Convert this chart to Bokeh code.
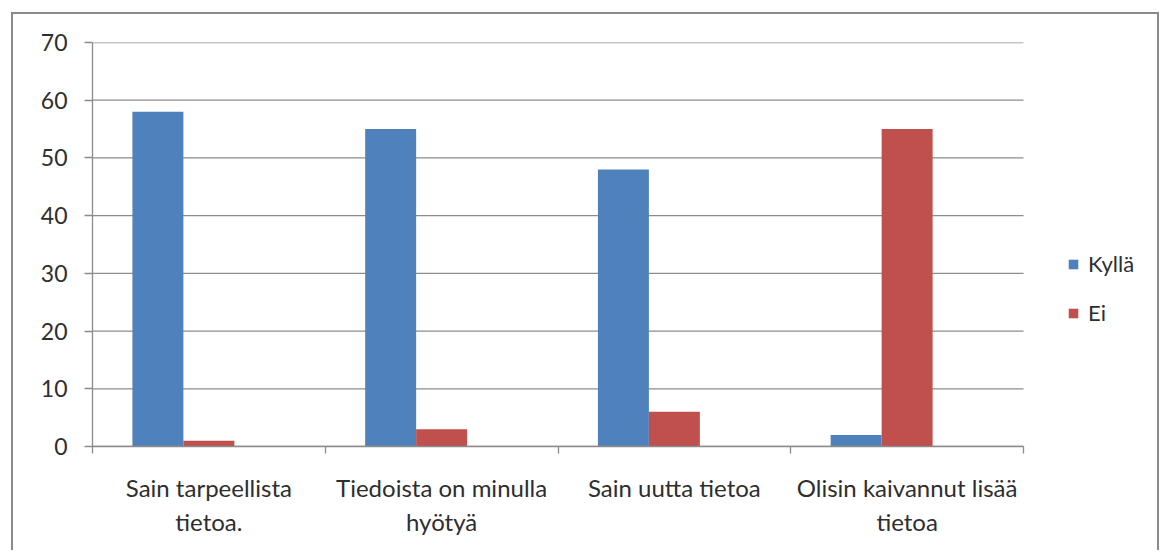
import numpy as np
from bokeh.plotting import figure
from bokeh.models import Range1d, FixedTicker, Legend, LegendItem, ColumnDataSource
from bokeh.embed import file_html
from bokeh.resources import INLINE

categories = ["Sain tarpeellista\ntietoa.", "Tiedoista on minulla\nhyötyä",
              "Sain uutta tietoa", "Olisin kaivannut lisää\ntietoa"]
series_names = ["Kyllä", "Ei"]
kylla = [58, 55, 48, 2]
ei = [1, 3, 6, 55]
y_ticks = [0, 10, 20, 30, 40, 50, 60, 70]

FONT = "Lato"
TXT = "#2e2e2e"
GRID = "#8c8c8c"
BAR_W = 0.219
N = len(categories)
# frame extends to the right to hold the legend; category area ends at x = N
X_END = N * (1161 - 92) / 931

p = figure(width=1148, height=538, output_backend="svg", toolbar_location=None,
           x_range=Range1d(0, X_END), y_range=Range1d(0, 70),
           min_border_left=79, min_border_right=0, min_border_top=28, min_border_bottom=106)
p.styles = {"margin-left": "11px", "margin-top": "12px",
            "border-left": "2px solid #8a8a8a", "border-top": "2px solid #8a8a8a",
            "border-right": "2px solid #8a8a8a"}

p.outline_line_color = None
p.xgrid.grid_line_color = None
p.ygrid.grid_line_color = None

# horizontal gridlines only across the category area
p.segment(x0=0, x1=N, y0=y_ticks, y1=y_ticks, line_color=GRID, line_width=1.3)

centers = np.arange(N) + 0.5
src = ColumnDataSource(dict(xk=centers - BAR_W, xe=centers, kylla=kylla, ei=ei))
rk = p.vbar(x="xk", top="kylla", width=BAR_W, bottom=0, source=src,
            fill_color="#4F81BD", line_color=None)
re_ = p.vbar(x="xe", top="ei", width=BAR_W, bottom=0, source=src,
             fill_color="#C0504D", line_color=None)

ya = p.yaxis[0]
ya.ticker = FixedTicker(ticks=y_ticks, minor_ticks=[])
ya.axis_line_color = GRID
ya.axis_line_width = 1.3
ya.major_tick_line_color = GRID
ya.major_tick_line_width = 1.3
ya.major_tick_in = 0
ya.major_tick_out = 8
ya.minor_tick_line_color = None
ya.major_label_standoff = 17
ya.major_label_text_font = FONT
ya.major_label_text_font_size = "23px"
ya.major_label_text_color = TXT

xa = p.xaxis[0]
xa.bounds = (0, N)
xa.ticker = FixedTicker(ticks=list(centers), minor_ticks=list(range(N + 1)))
xa.major_label_overrides = {float(c): lab for c, lab in zip(centers, categories)}
xa.axis_line_color = GRID
xa.axis_line_width = 1.3
xa.major_tick_line_color = None
xa.major_tick_in = 0
xa.major_tick_out = 0
xa.minor_tick_line_color = GRID
xa.minor_tick_line_width = 1.3
xa.minor_tick_in = 0
xa.minor_tick_out = 7
xa.major_label_standoff = 19
xa.major_label_text_font = FONT
xa.major_label_text_font_size = "24px"
xa.major_label_text_color = TXT
xa.major_label_text_line_height = 1.2

legend = Legend(items=[LegendItem(label=series_names[0], renderers=[rk]),
                       LegendItem(label=series_names[1], renderers=[re_])],
                location=(975, 120), orientation="vertical",
                glyph_width=12, glyph_height=12, label_standoff=9, spacing=22,
                padding=0, margin=0, border_line_color=None, background_fill_alpha=0,
                label_text_font=FONT, label_text_font_size="22px", label_text_color=TXT)
p.add_layout(legend)

open("out.html", "w").write(file_html(p, INLINE))
